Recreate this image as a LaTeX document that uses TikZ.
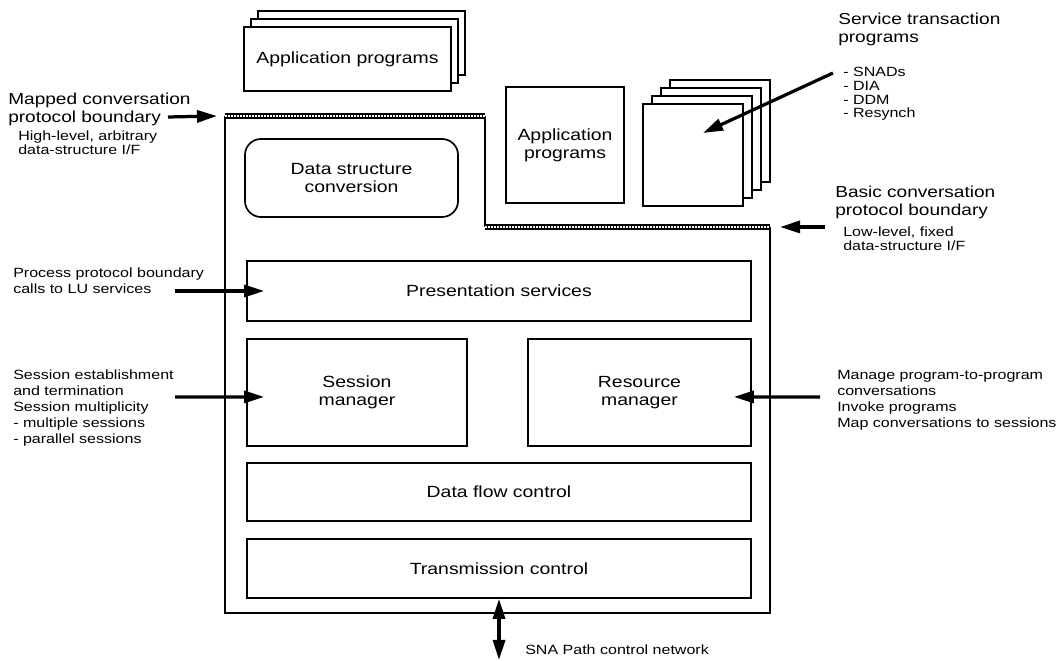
\documentclass[tikz,border=0pt]{standalone}
\usepackage{fontspec}
\setmainfont{Liberation Sans}[FakeStretch=1.2]
\usetikzlibrary{arrows.meta}

\begin{document}
\begin{tikzpicture}[
    x=0.025cm, y=-0.025cm,
    box/.style={draw, line width=1.2pt, fill=white, align=center, inner sep=0pt,
        font={\fontsize{11.5}{12.8}\selectfont}},
    head/.style={align=left, anchor=west, inner sep=0pt,
        font={\fontsize{11.3}{12.8}\selectfont}},
    note/.style={align=left, anchor=west, inner sep=0pt,
        font={\fontsize{9.5}{11.4}\selectfont}},
    tight note/.style={note, font={\fontsize{9.5}{9.8}\selectfont}},
    pointer/.style={line width=2.3pt, -{Triangle[length=0.5cm, width=0.3cm]}},
    outline/.style={line width=1.2pt},
    boundary/.style={line width=0.15cm,
        postaction={draw=white, line width=0.055cm, dash pattern=on 0.04cm off 0.035cm}}
]
\useasboundingbox (0,0) rectangle (1061,661);

% Programs above the LU
\foreach \i in {2,1}
    \node[box, minimum width=5.175cm, minimum height=1.6cm] at (347.5+\i*7,59-\i*8) {};
\node[box, minimum width=5.175cm, minimum height=1.6cm] (AP1) at (347.5,59) {Application programs};

\node[box, minimum width=2.95cm, minimum height=2.9cm] (AP2) at (565,145) {Application\\programs};

\foreach \i in {3,2,1}
    \node[box, minimum width=2.5cm, minimum height=2.55cm] at (693+\i*9,155-\i*8) {};
\node[box, minimum width=2.5cm, minimum height=2.55cm] (STP) at (693,155) {};

% LU boundary
\coordinate (B1) at (225,116);
\coordinate (B2) at (485,116);
\coordinate (B3) at (485,227);
\coordinate (B4) at (770,227);
\coordinate (B5) at (770,613);
\coordinate (B6) at (225,613);
\draw[outline] (B2) -- (B3);
\draw[outline] (B4) -- (B5) -- (B6) -- (B1);
\draw[boundary] (B1) -- (B2);
\draw[boundary] (B3) -- (B4);

% LU components
\node[box, rounded corners=0.4cm, minimum width=5.325cm, minimum height=1.95cm] (DSC) at (351.5,178) {Data structure\\conversion};
\node[box, minimum width=12.6cm, minimum height=1.5cm] (PS) at (499,291) {Presentation services};
\node[box, minimum width=5.5cm, minimum height=2.675cm] (SM) at (357,392.5) {Session\\manager};
\node[box, minimum width=5.575cm, minimum height=2.675cm] (RM) at (639.5,392.5) {Resource\\manager};
\node[box, minimum width=12.6cm, minimum height=1.45cm] (DFC) at (499,492) {Data flow control};
\node[box, minimum width=12.6cm, minimum height=1.475cm] (TC) at (499,568.5) {Transmission control};

% Left labels
\node[head] (MCP) at (8,109) {Mapped conversation\\protocol boundary};
\node[tight note] (MCPsub) at (18,143) {High-level, arbitrary\\data-structure I/F};
\node[note] (PPB) at (13,281) {Process protocol boundary\\calls to LU services};
\node[note] (SES) at (13,408) {Session establishment\\and termination\\Session multiplicity\\ - multiple sessions\\ - parallel sessions};

% Right labels
\node[head] (STPlbl) at (838,29) {Service transaction\\programs};
\node[tight note] (STPlist) at (843,94) {- SNADs\\- DIA\\- DDM\\- Resynch};
\node[head] (BCP) at (835,202) {Basic conversation\\protocol boundary};
\node[tight note] (BCPsub) at (843,238.5) {Low-level, fixed\\data-structure I/F};
\node[note] (MAN) at (837,400) {Manage program-to-program\\conversations\\Invoke programs\\Map conversations to sessions};

% Bottom label
\node[note] (SNA) at (525,650) {SNA Path control network};

% Arrows
\coordinate (mcpTail) at (168,117);
\coordinate (bcpTail) at (825,227);
\coordinate (ppbTail) at (175,291);
\coordinate (sesTail) at (175,397);
\coordinate (manTail) at (820,397);
\coordinate (stpTail) at (833,73);
\coordinate (stpTip) at (703,133);
\coordinate (snaEnd) at (499,660);
\draw[pointer] (mcpTail) -- ([xshift=-0.2cm]B1);
\draw[pointer] (bcpTail) -- ([xshift=0.25cm]B4);
\draw[pointer] (ppbTail) -- ([xshift=0.45cm]PS.west);
\draw[pointer] (sesTail) -- ([xshift=0.45cm,yshift=-0.11cm]SM.west);
\draw[pointer] (manTail) -- ([xshift=-0.45cm,yshift=-0.11cm]RM.east);
\draw[pointer] (stpTail) -- (stpTip);
\draw[pointer, {Triangle[length=0.5cm, width=0.3cm]}-{Triangle[length=0.5cm, width=0.3cm]}] (TC.south) -- (snaEnd);

\end{tikzpicture}
\end{document}
